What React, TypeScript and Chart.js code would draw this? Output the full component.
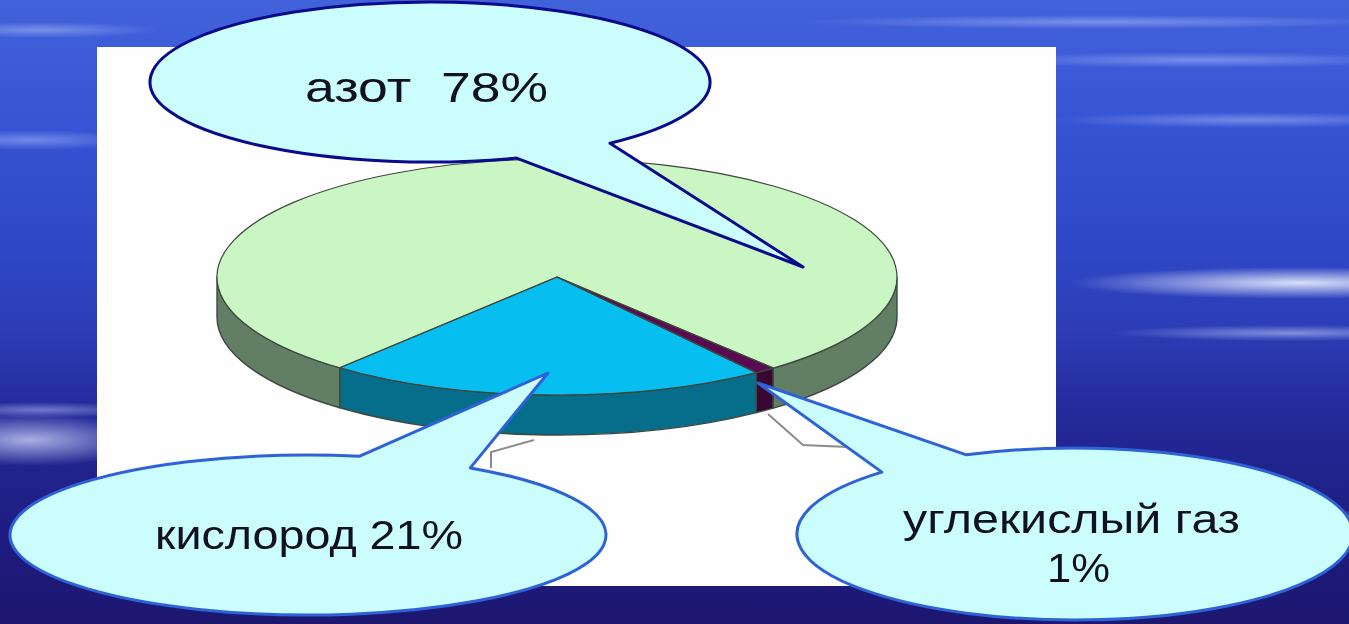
import React, { useEffect, useRef } from "react";
import { Chart, registerables } from "chart.js";

Chart.register(...registerables);

// ---------------- data ----------------
const categories = ["углекислый газ", "кислород", "азот"];
const shares = [1, 21, 78];
const topColors = ["#5a0a50", "#06bff0", "#c9f6c3"];
const sideColors = ["#3a0632", "#066e8a", "#627f66"];

// ---------------- layout ----------------
const W = 1349;
const H = 624;
const PIE = { cx: 557, cy: 277, rx: 340, ry: 118, depth: 40, rotation: 140.5 };
const EDGE = "#3e473e";

const BG = [
  "radial-gradient(ellipse 230px 16px at 1300px 283px, rgba(235,240,255,0.9), rgba(235,240,255,0) 100%)",
  "radial-gradient(ellipse 180px 8px at 1290px 333px, rgba(200,210,255,0.55), rgba(200,210,255,0) 100%)",
  "radial-gradient(ellipse 200px 8px at 1250px 120px, rgba(190,205,255,0.45), rgba(190,205,255,0) 100%)",
  "radial-gradient(ellipse 220px 8px at 1200px 60px, rgba(190,205,255,0.45), rgba(190,205,255,0) 100%)",
  "radial-gradient(ellipse 300px 7px at 1100px 22px, rgba(190,205,255,0.45), rgba(190,205,255,0) 100%)",
  "radial-gradient(ellipse 120px 26px at 30px 440px, rgba(215,220,255,0.75), rgba(215,220,255,0) 100%)",
  "radial-gradient(ellipse 110px 8px at 40px 410px, rgba(190,200,255,0.5), rgba(190,200,255,0) 100%)",
  "radial-gradient(ellipse 110px 10px at 30px 140px, rgba(190,205,255,0.45), rgba(190,205,255,0) 100%)",
  "radial-gradient(ellipse 120px 8px at 40px 30px, rgba(190,205,255,0.45), rgba(190,205,255,0) 100%)",
  "radial-gradient(ellipse 100px 10px at 1330px 520px, rgba(210,220,255,0.6), rgba(210,220,255,0) 100%)",
  "linear-gradient(180deg, #4262da 0px, #3c5ad8 70px, #3451d2 150px, #2f47c6 250px, #2c3db6 330px, #252c9e 400px, #21238c 470px, #1d1a7c 560px, #1d176f 624px)",
].join(", ");

type Bubble = {
  cx: number; cy: number; rx: number; ry: number;
  a1: number; a2: number; tx: number; ty: number;
  stroke: string;
  lines: { text: string; x: number; y: number; len: number; size: number }[];
};

const bubbles: Bubble[] = [
  {
    cx: 430, cy: 82, rx: 280, ry: 80, a1: 50, a2: 72, tx: 803, ty: 267,
    stroke: "#0a0a8c",
    lines: [{ text: `${categories[2]}\u00a0\u00a0${shares[2]}%`, x: 305, y: 102, len: 243, size: 42 }],
  },
  {
    cx: 308, cy: 535, rx: 298, ry: 80, a1: -80, a2: -57, tx: 548, ty: 373,
    stroke: "#2e62d6",
    lines: [{ text: `${categories[1]} ${shares[1]}%`, x: 155, y: 549, len: 308, size: 40 }],
  },
  {
    cx: 1075, cy: 534, rx: 278, ry: 86, a1: -134, a2: -113, tx: 758, ty: 383,
    stroke: "#2e62d6",
    lines: [
      { text: categories[0], x: 903, y: 533, len: 337, size: 40 },
      { text: `${shares[0]}%`, x: 1047, y: 582, len: 63, size: 40 },
    ],
  },
];

function bubblePath(b: Bubble) {
  const p = (a: number) => [b.cx + b.rx * Math.cos((a * Math.PI) / 180), b.cy + b.ry * Math.sin((a * Math.PI) / 180)];
  const [x1, y1] = p(b.a1);
  const [x2, y2] = p(b.a2);
  return `M${x1},${y1} L${b.tx},${b.ty} L${x2},${y2} A${b.rx},${b.ry} 0 1 1 ${x1},${y1} Z`;
}

function strokeDevice(ctx: CanvasRenderingContext2D, color: string, width: number) {
  ctx.save();
  ctx.setTransform(1, 0, 0, 1, 0, 0);
  ctx.strokeStyle = color;
  ctx.lineWidth = width;
  ctx.lineJoin = "round";
  ctx.stroke();
  ctx.restore();
}

const tiltPlugin = {
  id: "tilt3d",
  beforeDatasetsDraw(chart: any) {
    const arcs = chart.getDatasetMeta(0).data as any[];
    chart.$tiltActive = false;
    if (!arcs.length) return;
    const a0 = arcs[0];
    const R = a0.outerRadius;
    const sx = PIE.rx / R;
    const sy = PIE.ry / R;
    const ctx: CanvasRenderingContext2D = chart.ctx;
    ctx.save();
    chart.$tiltActive = true;
    ctx.translate(PIE.cx, PIE.cy);
    ctx.scale(sx, sy);
    ctx.translate(-a0.x, -a0.y);
    const D = PIE.depth / sy;
    arcs.forEach((arc, i) => {
      const { x, y, startAngle, endAngle, outerRadius } = arc;
      for (let k = -1; k <= 2; k++) {
        const lo = Math.max(startAngle, 2 * Math.PI * k);
        const hi = Math.min(endAngle, 2 * Math.PI * k + Math.PI);
        if (hi <= lo) continue;
        ctx.beginPath();
        ctx.arc(x, y, outerRadius, lo, hi);
        ctx.lineTo(x + outerRadius * Math.cos(hi), y + outerRadius * Math.sin(hi) + D);
        ctx.arc(x, y + D, outerRadius, hi, lo, true);
        ctx.closePath();
        ctx.fillStyle = sideColors[i];
        ctx.fill();
        strokeDevice(ctx, EDGE, 1.4);
      }
    });
  },
  afterDatasetsDraw(chart: any) {
    if (!chart.$tiltActive) return;
    const ctx: CanvasRenderingContext2D = chart.ctx;
    const arcs = chart.getDatasetMeta(0).data as any[];
    arcs.forEach((arc) => {
      const { x, y, startAngle, endAngle, outerRadius } = arc;
      ctx.beginPath();
      ctx.moveTo(x, y);
      ctx.arc(x, y, outerRadius, startAngle, endAngle);
      ctx.closePath();
      strokeDevice(ctx, EDGE, 1.2);
    });
    ctx.restore();
    chart.$tiltActive = false;
  },
};

export default function App() {
  const ref = useRef<HTMLCanvasElement>(null);

  useEffect(() => {
    const chart = new Chart(ref.current as HTMLCanvasElement, {
      type: "pie",
      data: {
        labels: categories,
        datasets: [
          {
            data: shares,
            backgroundColor: topColors,
            borderWidth: 0,
            clip: false,
          } as any,
        ],
      },
      options: {
        responsive: false,
        animation: false,
        rotation: PIE.rotation,
        events: [],
        plugins: { legend: { display: false }, tooltip: { enabled: false } },
      },
      plugins: [tiltPlugin as any],
    });
    return () => chart.destroy();
  }, []);

  return (
    <div style={{ position: "fixed", left: 0, top: 0, width: W, height: H, overflow: "hidden", background: BG }}>
      <div style={{ position: "absolute", left: 97, top: 47, width: 959, height: 539, background: "#fdfefd" }} />
      <canvas ref={ref} width={W} height={H} style={{ position: "absolute", left: 0, top: 0, width: W, height: H }} />
      <svg width={W} height={H} style={{ position: "absolute", left: 0, top: 0 }}>
        <polyline points="534,440 491,452 491,468" fill="none" stroke="#8c8c8c" strokeWidth={2} />
        <polyline points="768,414 803,445 848,447" fill="none" stroke="#8c8c8c" strokeWidth={2} />
        {bubbles.map((b, i) => (
          <g key={i}>
            <path d={bubblePath(b)} fill="#cbfdfd" stroke={b.stroke} strokeWidth={3} strokeLinejoin="round" />
            {b.lines.map((l, j) => (
              <text
                key={j}
                x={l.x}
                y={l.y}
                textLength={l.len}
                lengthAdjust="spacingAndGlyphs"
                fontSize={l.size}
                fontFamily="'Liberation Sans', Arial, sans-serif"
                fill="#111122"
              >
                {l.text}
              </text>
            ))}
          </g>
        ))}
      </svg>
    </div>
  );
}
